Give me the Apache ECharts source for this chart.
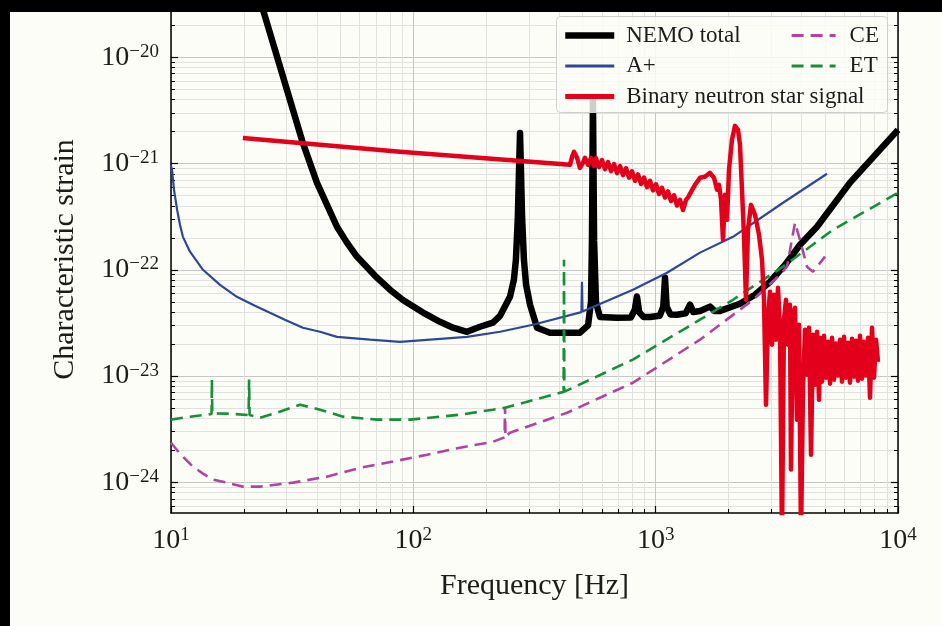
<!DOCTYPE html>
<html><head><meta charset="utf-8">
<script src="https://cdn.jsdelivr.net/npm/echarts@6/dist/echarts.min.js"></script>
<style>html,body{margin:0;padding:0;background:#fdfdf7}#c{width:942px;height:626px}</style>
</head><body><div id="c"></div>
<script>
// ---- data (frequency [Hz], characteristic strain) ----
const nemoTotal = [
 [23.3,3.5e-20],[24.2,2.6e-20],[35.0,1.56e-21],[40.0,6.6e-22],[48.4,2.54e-22],[53.2,1.8e-22],[58.5,1.33e-22],
 [69.5,8.78e-23],[80.1,6.49e-23],[90.6,5.2e-23],[111.7,3.86e-23],[128.8,3.24e-23],[145.8,2.85e-23],
 [166.5,2.61e-23],[188.4,2.91e-23],[213,3.18e-23],[228,3.69e-23],
 [250.5,5.57e-23],[260,8.05e-23],[265,1.24e-22],[270,3.15e-22],[273,8.7e-22],[275.6,1.94e-21],[278,8.7e-22],
 [281,3.15e-22],[286,1.24e-22],[292,7.2e-23],[303,4.7e-23],[324,2.85e-23],[366,2.56e-23],[487,2.56e-23],
 [526,3.0e-23],[541,5.0e-23],[546,1.9e-22],[551,4.0e-21],[557,1.9e-22],[567,5.0e-23],[578,4.2e-23],
 [589,3.6e-23],[692,3.53e-23],[790,3.55e-23],[820,4.2e-23],[837,5.6e-23],[855,4.0e-23],[890,3.6e-23],
 [948,3.6e-23],[1040,3.7e-23],[1075,4.5e-23],[1093,8.4e-23],[1110,4.5e-23],[1150,3.8e-23],[1225,3.78e-23],
 [1330,3.9e-23],[1386,4.7e-23],[1430,4.0e-23],[1524,4.1e-23],[1676,4.5e-23],[1750,4.1e-23],[1843,4.1e-23],
 [2228,4.79e-23],[2570,5.82e-23],[2964,7.71e-23],[3418,1.11e-22],[3941,1.72e-22],[4633,2.54e-22],
 [6339,6.6e-22],[10000,2.07e-21]
];
const aPlus = [
 [10,9.5e-22],[10.1,8.7e-22],[10.29,5.65e-22],[10.6,3.66e-22],[10.89,2.65e-22],[11.2,2.04e-22],[11.98,1.48e-22],
 [13.55,1.0e-22],[15.93,7.22e-23],[18.7,5.57e-23],[22.2,4.59e-23],[25.6,3.94e-23],[29.5,3.39e-23],
 [35.0,2.85e-23],[41.2,2.61e-23],[48.4,2.34e-23],[66.3,2.2e-23],[88.1,2.1e-23],[166.5,2.34e-23],[228,2.61e-23],
 [311.7,3.04e-23],[494,4.0e-23],[496.5,7.7e-23],[499,4.05e-23],[806,6.49e-23],[1114,9.37e-23],[1524,1.45e-22],
 [2085,2.04e-22],[3354,4.27e-22],[5094,8.0e-22]
];
const ceCurve = [
 [10,2.36e-24],[10.89,1.86e-24],[12.3,1.41e-24],[13.55,1.21e-24],[14.9,1.06e-24],[17.0,9.94e-25],[19.8,9.12e-25],
 [23.3,9.12e-25],[31.9,9.94e-25],[44.0,1.13e-24],[60.3,1.37e-24],[82.4,1.57e-24],[114,1.82e-24],[156,2.12e-24],
 [213,2.41e-24],[238,2.65e-24],[239,5.15e-24],[240,2.68e-24],[250.5,2.93e-24],[431,4.52e-24],[806,8.66e-24],
 [1524,2.2e-23],[1843,3.04e-23],[2522,5.22e-23],[3258,8.97e-23],[3483,1.07e-22],[3758,2.77e-22],[3941,1.91e-22],
 [4212,1.07e-22],[4457,9.57e-23],[5000,1.33e-22]
];
const etCurve = [
 [10,3.89e-24],[12,4.15e-24],[14.7,4.4e-24],[14.75,9.3e-24],[14.8,4.45e-24],[17.5,4.43e-24],[20.9,4.3e-24],
 [21.0,9.3e-24],[21.1,4.3e-24],[23.3,4.06e-24],[27.4,4.52e-24],[34.1,5.38e-24],[41.2,4.83e-24],[51.3,4.15e-24],
 [70.8,3.89e-24],[96.9,3.89e-24],[156,4.33e-24],[213,4.83e-24],[239,5.04e-24],[403,6.97e-24],[417,7.1e-24],
 [418.6,1.24e-22],[420,7.13e-24],[806,1.43e-23],[1524,3.39e-23],[2085,5.22e-23],[3354,1.07e-22],
 [5395,2.38e-22],[10000,5.3e-22]
];
const bnsSignal = [
 [19.8,1.74e-21],[88.1,1.29e-21],[443,9.71e-22],[452,1.155e-21],[460,1.29e-21],[474,1.13e-21],[487,9.1e-22],
 [501,1.014e-21],[511,1.13e-21],[526,9.71e-22],[541,1.13e-21],[557,9.5e-22],
 [567.3,1.12e-21],[583.7,9.24e-22],[600.6,1.075e-21],[618.0,8.85e-22],[635.9,1.03e-21],[654.3,8.47e-22],
 [673.2,9.86e-22],[692.7,8.11e-22],[712.8,9.44e-22],[733.4,7.77e-22],[754.6,9.02e-22],[776.5,7.35e-22],
 [798.9,8.45e-22],[822.0,6.87e-22],[845.8,7.89e-22],[870.3,6.41e-22],[895.5,7.36e-22],[921.4,5.98e-22],
 [948.0,6.87e-22],[975.0,5.58e-22],[1003.2,6.38e-22],[1032.2,5.16e-22],[1062.1,5.9e-22],[1092.8,4.78e-22],
 [1124.4,5.46e-22],[1157.0,4.43e-22],[1190.4,5.02e-22],[1224.9,4.02e-22],[1260.3,4.55e-22],[1296.8,3.65e-22],
 [1334.3,4.55e-22],[1360,4.8e-22],
 [1453,6.3e-22],[1524,7.33e-22],[1598,7.49e-22],
 [1676,8.17e-22],[1741,7.33e-22],[1791,5.65e-22],[1826,6.3e-22],[1861,4.55e-22],[1896,1.91e-22],
 [1933,5.07e-22],[1970,2.95e-22],[2007,8.71e-22],[2065,1.67e-21],[2125,2.26e-21],[2187,2.07e-21],
 [2228,1.5e-21],[2271,5.65e-22],[2314,2.13e-22],[2359,5.22e-23],[2404,2.38e-22],[2474,4.08e-22],
 [2570,3.29e-22],[2670,2.13e-22],[2747,1.24e-22],[2799,5.22e-23],
 [2853,5.38e-24],[2908,3.54e-23],[2964,6.21e-23],[3021,1.97e-23],[3078,5.82e-23],[3137,2.2e-23],[3197,6.77e-23],
 [3259,2.73e-23],[3321,3e-25],[3385,3.39e-23],[3450,5.22e-23],[3516,1.97e-23],[3583,4.69e-23],[3617,1.32e-24],
 [3687,3.77e-23],[3758,4.39e-23],[3830,3.89e-24],[3904,3.04e-23],[3979,3e-25],[4055,7.44e-24],[4133,2.73e-23],
 [4213,1.03e-23],[4294,2.85e-23],[4376,1.82e-24],[4460,2.45e-23],[4546,8.29e-24],[4633,2.61e-23],[4721,6.0e-24],
 [4766,2.29e-23],[4858,8.85e-24],[4951,2.39e-23],[5046,9.65e-24],[5143,2.1e-23],[5242,8.48e-24],[5343,2.29e-23],
 [5444,9.24e-24],[5549,2.02e-23],[5655,1.01e-23],[5765,2.2e-23],[5875,8.85e-24],[5988,2.34e-23],[6103,9.65e-24],
 [6220,2.06e-23],[6339,8.66e-24],[6461,2.25e-23],[6585,9.86e-24],[6711,2.15e-23],[6839,9.04e-24],[6970,2.39e-23],
 [7104,9.44e-24],[7240,2.1e-23],[7379,1.01e-23],[7521,2.29e-23],[7665,6.26e-24],[7812,2.85e-23],[7962,9.65e-24],
 [8114,2.2e-23],[8270,1.36e-23]
];
// ---- axes ----
const xRange = [10, 10000];
const yRange = [5.15e-25, 3.03e-20];
const xMajorTicks = [10, 100, 1000, 10000];
const xMinorTicks = [20,30,40,50,60,70,80,90,200,300,400,500,600,700,800,900,2000,3000,4000,5000,6000,7000,8000,9000];
const yMajorTicks = [1e-24, 1e-23, 1e-22, 1e-21, 1e-20];
const yMinorTicks = [6e-25,7e-25,8e-25,9e-25,
 2e-24,3e-24,4e-24,5e-24,6e-24,7e-24,8e-24,9e-24,
 2e-23,3e-23,4e-23,5e-23,6e-23,7e-23,8e-23,9e-23,
 2e-22,3e-22,4e-22,5e-22,6e-22,7e-22,8e-22,9e-22,
 2e-21,3e-21,4e-21,5e-21,6e-21,7e-21,8e-21,9e-21,
 2e-20];
const xTitle = 'Frequency [Hz]';
const yTitle = 'Characteristic strain';

const FONT = 'Liberation Serif';
const TXT = '#1c1c1c';
const C_NEMO = '#000000', C_AP = '#2e4899', C_CE = '#b0449f', C_ET = '#178f3a', C_BNS = '#e2001a';
const W_NEMO = 6.5, W_AP = 2.2, W_DASH = 2.6, W_BNS = 4.5;
const DASH = [12, 7];
function powLabel(v) {
  const n = Math.round(Math.log10(v));
  return '{b|10}{s|' + (n < 0 ? '\u2212' + (-n) : String(n)) + '}';
}
const rich = {
  b: {fontFamily: FONT, fontSize: 28, color: TXT, lineHeight: 30},
  s: {fontFamily: FONT, fontSize: 19, color: TXT, lineHeight: 14, verticalAlign: 'top'}
};
function logAxis(extra) {
  return Object.assign({
    type: 'log', logBase: 10, gridIndex: 0,
    axisLine: {show: false, onZero: false},
    axisTick: {show: false},
    axisLabel: {show: false},
    splitLine: {show: false},
    minorTick: {show: false}, minorSplitLine: {show: false}
  }, extra);
}
const chart = echarts.init(document.getElementById('c'), null, {renderer: 'canvas'});
const legendText = {fontFamily: FONT, fontSize: 23, color: TXT, lineHeight: 20};
const option = {
  animation: false,
  backgroundColor: '#fdfdf7',
  grid: {left: 171, right: 44, top: 6, bottom: 113, containLabel: false, outerBoundsMode: 'none'},
  xAxis: [
    logAxis({min: xRange[0], max: xRange[1], position: 'bottom',
      axisLine: {show: true, onZero: false, lineStyle: {color: '#000', width: 1.5}},
      axisTick: {show: true, inside: true, length: 7, customValues: xMajorTicks, lineStyle: {color: '#000', width: 1.2}},
      axisLabel: {show: true, customValues: xMajorTicks, margin: 13, formatter: powLabel, rich: rich},
      splitLine: {show: true, lineStyle: {color: '#c6c6c6', width: 1}},
      name: xTitle, nameLocation: 'middle', nameGap: 57,
      nameTextStyle: {fontFamily: FONT, fontSize: 30, color: TXT, lineHeight: 32}
    }),
    logAxis({min: xRange[0], max: xRange[1], position: 'bottom',
      axisTick: {show: true, inside: true, length: 4, customValues: xMinorTicks, lineStyle: {color: '#000', width: 1}},
      splitLine: {show: true, lineStyle: {color: '#e1e1df', width: 1}}
    })
  ],
  yAxis: [
    logAxis({min: yRange[0], max: yRange[1], position: 'left',
      axisLine: {show: true, onZero: false, lineStyle: {color: '#000', width: 1.5}},
      axisTick: {show: true, inside: true, length: 7, customValues: yMajorTicks, lineStyle: {color: '#000', width: 1.2}},
      axisLabel: {show: true, customValues: yMajorTicks, margin: 12, formatter: powLabel, rich: rich},
      splitLine: {show: true, lineStyle: {color: '#c6c6c6', width: 1}},
      name: yTitle, nameLocation: 'middle', nameGap: 90, nameRotate: 90,
      nameTextStyle: {fontFamily: FONT, fontSize: 30, color: TXT, lineHeight: 32}
    }),
    logAxis({min: yRange[0], max: yRange[1], position: 'left',
      axisTick: {show: true, inside: true, length: 4, customValues: yMinorTicks, lineStyle: {color: '#000', width: 1}},
      splitLine: {show: true, lineStyle: {color: '#e1e1df', width: 1}}
    }),
    logAxis({min: yRange[0], max: yRange[1], position: 'right',
      axisLine: {show: true, onZero: false, lineStyle: {color: '#000', width: 1.5}},
      axisTick: {show: true, inside: true, length: 7, customValues: yMajorTicks, lineStyle: {color: '#000', width: 1.2}}
    }),
    logAxis({min: yRange[0], max: yRange[1], position: 'right',
      axisTick: {show: true, inside: true, length: 4, customValues: yMinorTicks, lineStyle: {color: '#000', width: 1}}
    })
  ],
  legend: [
    {data: [
       {name: 'NEMO total', lineStyle: {width: W_NEMO, color: C_NEMO}},
       {name: 'A+', lineStyle: {width: W_AP + 0.6, color: C_AP}},
       {name: 'Binary neutron star signal', lineStyle: {width: W_BNS + 0.5, color: C_BNS}}],
     orient: 'vertical', left: 557, top: 19,
     padding: 5, itemWidth: 49, itemHeight: 20, itemGap: 7.5, z: 20, itemStyle: {opacity: 0},
     textStyle: Object.assign({padding: [0, 0, 0, 7]}, legendText)},
    {data: [
       {name: 'CE', lineStyle: {width: W_DASH + 0.6, color: C_CE, type: DASH}},
       {name: 'ET', lineStyle: {width: W_DASH + 0.6, color: C_ET, type: DASH}}],
     orient: 'vertical', left: 785, top: 19,
     padding: 5, itemWidth: 44, itemHeight: 20, itemGap: 7.5, z: 20, itemStyle: {opacity: 0},
     textStyle: Object.assign({padding: [0, 0, 0, 9]}, legendText)}
  ],
  graphic: [
    {type: 'rect', z: 15, silent: true, shape: {x: 556.5, y: 16.5, width: 331, height: 96, r: 4},
     style: {fill: 'rgba(253,253,247,0.82)', stroke: '#cfcfcf', lineWidth: 1}},
    {type: 'rect', z: 100, silent: true, shape: {x: 0, y: 0, width: 942, height: 12}, style: {fill: '#000'}},
    {type: 'rect', z: 100, silent: true, shape: {x: 0, y: 0, width: 10, height: 626}, style: {fill: '#000'}}
  ],
  series: [
    {name: 'NEMO total', type: 'line', data: nemoTotal, showSymbol: false, symbol: 'none',
     lineStyle: {color: C_NEMO, width: W_NEMO, join: 'round'}, itemStyle: {color: C_NEMO}},
    {name: 'A+', type: 'line', data: aPlus, showSymbol: false, symbol: 'none',
     lineStyle: {color: C_AP, width: W_AP}, itemStyle: {color: C_AP}},
    {name: 'CE', type: 'line', data: ceCurve, showSymbol: false, symbol: 'none',
     lineStyle: {color: C_CE, width: W_DASH, type: DASH}, itemStyle: {color: C_CE}},
    {name: 'ET', type: 'line', data: etCurve, showSymbol: false, symbol: 'none',
     lineStyle: {color: C_ET, width: W_DASH, type: DASH}, itemStyle: {color: C_ET}},
    {name: 'Binary neutron star signal', type: 'line', data: bnsSignal, showSymbol: false, symbol: 'none',
     lineStyle: {color: C_BNS, width: W_BNS, join: 'round'}, itemStyle: {color: C_BNS}}
  ]
};
chart.setOption(option);
</script>
</body></html>
